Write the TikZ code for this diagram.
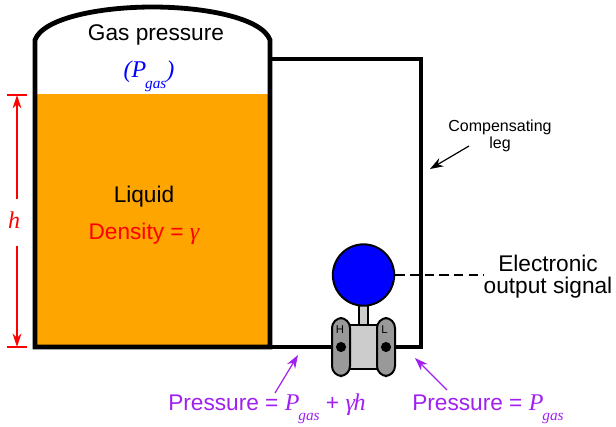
\documentclass[tikz,border=0pt]{standalone}
\usepackage{fontspec}
\setmainfont{Liberation Sans}
\newfontfamily\serifit[Ligatures=TeX]{Liberation Serif}[ItalicFont={Liberation Serif Italic}]
\usetikzlibrary{arrows.meta}
\definecolor{tankorange}{RGB}{255,165,0}
\definecolor{callout}{RGB}{160,32,240}
\definecolor{flangegray}{RGB}{153,153,153}
\definecolor{bodygray}{RGB}{204,204,204}
\newcommand{\varP}[1]{{\serifit\itshape\fontsize{18pt}{20pt}\selectfont #1}}
\newcommand{\pgasterm}{\varP{P}\raisebox{-0.9ex}{\serifit\itshape\fontsize{11.5pt}{12pt}\selectfont\kern-0.8pt gas}}
\tikzset{
  x=0.75pt, y=-0.75pt,
  label16/.style={font=\fontsize{17pt}{16.5pt}\selectfont, inner sep=0pt, align=center},
  label11/.style={font=\fontsize{12pt}{13pt}\selectfont, inner sep=0pt, align=center},
  pipe/.style={line width=2.3pt, line join=miter},
  part/.style={draw=black, line width=1.5pt},
  dimline/.style={draw=red, line width=0.9pt, -{Stealth[length=10pt,width=6.5pt]}},
  dimtick/.style={draw=red, line width=0.9pt},
  calloutarrow/.style={draw=callout, line width=0.9pt, -{Stealth[length=10pt,width=7pt]}},
  blackarrow/.style={draw=black, line width=0.9pt, -{Stealth[length=10pt,width=7pt]}},
}
\begin{document}
\begin{tikzpicture}
\useasboundingbox (0,0) rectangle (616,426);

% liquid and vessel
\fill[tankorange] (35,94) rectangle (270,347);
\draw[line width=3.6pt, line join=miter, line cap=butt]
  (35,347) -- (270,347) -- (270,40)
  .. controls (262,18) and (205,7) .. (152.5,7)
  .. controls (100,7) and (43,18) .. (35,40) -- cycle;

% compensating leg and process connections
\coordinate (tapTop) at (270,59);
\coordinate (legTop) at (421,59);
\coordinate (legBot) at (421,347);
\coordinate (tapBot) at (270,347);
\draw[pipe] (tapTop) -- (legTop) -- (legBot) -- (386,347);
\draw[pipe] (tapBot) -- (341,347);

% transmitter
\draw[part, fill=bodygray] (359,305) rectangle (368,326);
\draw[part, fill=bodygray] (349,325) rectangle (378,369);
\draw[part, fill=flangegray, rounded corners=7.5pt] (332,318) rectangle (350,376);
\draw[part, fill=flangegray, rounded corners=7.5pt] (377,318) rectangle (395,376);
\node[circle, part, fill=blue, minimum size=46pt, inner sep=0pt] (head) at (363.5,275) {};
\node[font=\fontsize{8.5pt}{9pt}\selectfont, inner sep=0pt] (hi) at (340,330) {H};
\node[font=\fontsize{8.5pt}{9pt}\selectfont, inner sep=0pt] (lo) at (384.5,330) {L};
\fill (341,347) circle[radius=3.8pt];
\fill (386,347) circle[radius=3.8pt];

% signal line
\node[label16] (signal) at (548,277) {Electronic\\output signal};
\draw[line width=1.1pt, dash pattern=on 7pt off 4pt] (head.east) -- (signal.west |- head.east);

% vessel labels
\node[label16] (gas) at (156,35) {Gas pressure};
\node[label16, text=blue] (pgas) at (149,76) {\varP{(}\pgasterm\varP{)}};
\node[label16] (liquid) at (144,197) {Liquid};
\node[label16, text=red] (density) at (144,234) {Density = \varP{γ}};

% level dimension
\coordinate (dimTop) at (17,95);
\coordinate (dimBot) at (17,347);
\node[label16, text=red] (hlabel) at (14,220) {\varP{h}};
\draw[dimtick] (7,95) -- (27,95);
\draw[dimtick] (7,347) -- (27,347);
\draw[dimline] (hlabel.north -| dimTop) ++(0,-12) -- (dimTop);
\draw[dimline] (hlabel.south -| dimBot) ++(0,17) -- (dimBot);

% compensating leg callout
\node[label11] (comp) at (500,136) {Compensating\\leg};
\coordinate (legPoint) at (430,169);
\coordinate (legFrom) at (469,146);
\draw[blackarrow] (legFrom) -- (legPoint);

% pressure callouts
\node[label16, text=callout, anchor=base west] (phigh) at (168,410) {Pressure = \pgasterm\ + \varP{γ\kern-1pt h}};
\node[label16, text=callout, anchor=base west] (plow) at (412,410) {Pressure = \pgasterm};
\coordinate (hiFrom) at (275,393);
\coordinate (hiTip) at (298,355);
\coordinate (loFrom) at (447,390);
\coordinate (loTip) at (415,358);
\draw[calloutarrow] (hiFrom) -- (hiTip);
\draw[calloutarrow] (loFrom) -- (loTip);
\end{tikzpicture}
\end{document}
